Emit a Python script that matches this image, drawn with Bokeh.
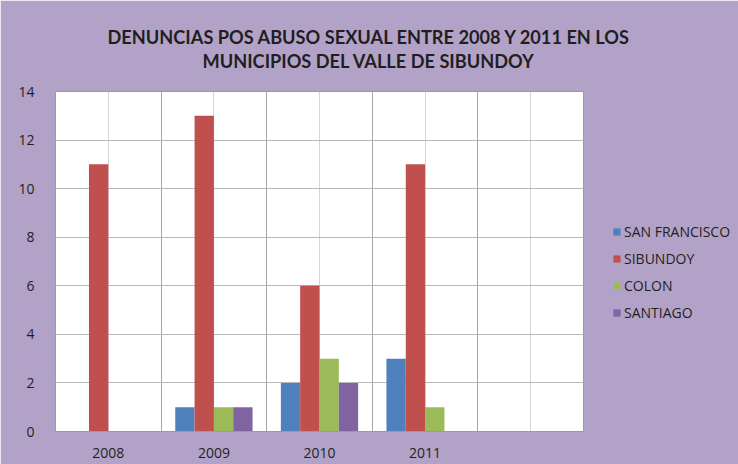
from bokeh.plotting import figure
from bokeh.models import FixedTicker, Legend, LegendItem, Title
from bokeh.embed import file_html
from bokeh.resources import INLINE

categories = ["2008", "2009", "2010", "2011", ""]
series_names = ["SAN FRANCISCO", "SIBUNDOY", "COLON", "SANTIAGO"]
san_francisco = [0, 1, 2, 3]
sibundoy = [11, 13, 6, 11]
colon = [0, 1, 3, 1]
santiago = [0, 1, 2, 0]
series_values = [san_francisco, sibundoy, colon, santiago]
colors = ["#4F81BD", "#C0504D", "#9BBB59", "#8064A2"]
y_ticks = [0, 2, 4, 6, 8, 10, 12, 14]
title_lines = ["DENUNCIAS POS ABUSO SEXUAL ENTRE 2008 Y 2011 EN LOS",
               "MUNICIPIOS DEL VALLE DE SIBUNDOY"]

BG = "#B3A2C7"
TXT = "#1F1F1F"
p = figure(frame_width=528, frame_height=340, x_range=(0, len(categories)), y_range=(0, 14),
           output_backend="svg", toolbar_location=None, title=None,
           min_border_left=55, min_border_right=155, min_border_top=91, min_border_bottom=33)
p.border_fill_color = BG
p.background_fill_color = "white"
p.outline_line_color = "#9A9A9A"

n = len(categories)
centers = [i + 0.5 for i in range(n)]
bw = 0.183
renderers = []
for k, (name, vals, col) in enumerate(zip(series_names, series_values, colors)):
    off = (k - 1.5) * bw
    xs = [centers[i] + off for i in range(len(vals))]
    r = p.vbar(x=xs, top=vals, width=bw, fill_color=col, line_color=None)
    renderers.append((name, r))

# axes
p.xaxis.ticker = FixedTicker(ticks=centers)
p.xaxis.major_label_overrides = {c: lab for c, lab in zip(centers, categories)}
p.yaxis.ticker = FixedTicker(ticks=y_ticks)
for ax in (p.xaxis[0], p.yaxis[0]):
    ax.major_tick_line_color = None
    ax.minor_tick_line_color = None
    ax.major_label_text_font = "Open Sans"
    ax.major_label_text_font_size = "14px"
    ax.major_label_text_color = TXT
p.xaxis.axis_line_color = "#9A9A9A"
p.yaxis.axis_line_color = None
p.xaxis.major_label_standoff = 10
p.yaxis.major_label_standoff = 15

# grids
p.xgrid.ticker = FixedTicker(ticks=list(range(n + 1)), minor_ticks=centers)
p.xgrid.grid_line_color = "#A6A6A6"
p.xgrid.minor_grid_line_color = "#D6D6D6"
p.ygrid.ticker = FixedTicker(ticks=y_ticks)
p.ygrid.grid_line_color = "#B8B8B8"

# legend
legend = Legend(items=[LegendItem(label=nm, renderers=[r]) for nm, r in renderers],
                location=(29, 109), orientation="vertical",
                background_fill_alpha=0, border_line_color=None,
                padding=0, margin=0, spacing=8,
                glyph_width=9, glyph_height=9, label_height=14, label_standoff=3,
                label_text_font="Open Sans", label_text_font_size="14px",
                label_text_color=TXT)
p.add_layout(legend, "right")

# title: spacer nearest the plot, then line 2, then line 1
p.add_layout(Title(text=" ", text_font_size="1px", standoff=17), "above")
for line, off in zip(reversed(title_lines), [147, 52]):
    p.add_layout(Title(text=line, align="left", offset=off, standoff=0,
                       text_font="Lato", text_font_style="bold", text_font_size="18.2px",
                       text_color=TXT), "above")

open("out.html", "w").write(file_html(p, INLINE))
